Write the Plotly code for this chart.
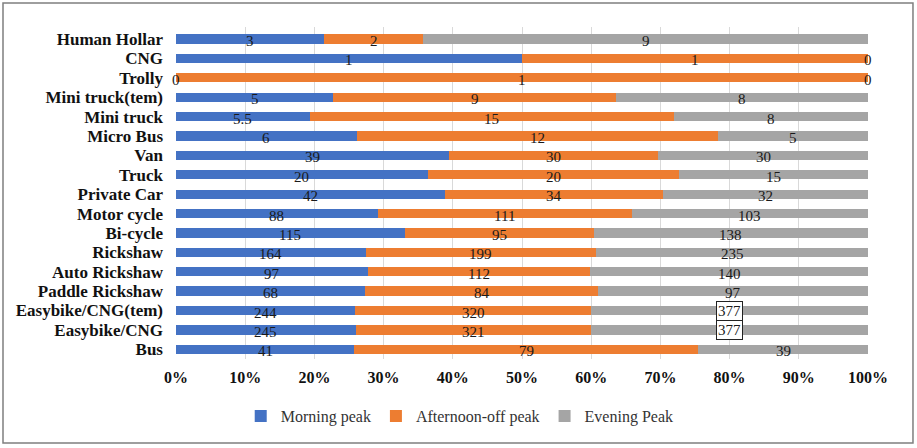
import plotly.graph_objects as go
import numpy as np

# data, top to bottom as in the chart
vehicles = ['Human Hollar', 'CNG', 'Trolly', 'Mini truck(tem)', 'Mini truck', 'Micro Bus',
            'Van', 'Truck', 'Private Car', 'Motor cycle', 'Bi-cycle', 'Rickshaw',
            'Auto Rickshaw', 'Paddle Rickshaw', 'Easybike/CNG(tem)', 'Easybike/CNG', 'Bus']
morning = [3, 1, 0, 5, 5.5, 6, 39, 20, 42, 88, 115, 164, 97, 68, 244, 245, 41]
afternoon = [2, 1, 1, 9, 15, 12, 30, 20, 34, 111, 95, 199, 112, 84, 320, 321, 79]
evening = [9, 0, 0, 8, 8, 5, 30, 15, 32, 103, 138, 235, 140, 97, 377, 377, 39]

series = [('Morning peak', morning, '#4472C4'),
          ('Afternoon-off peak', afternoon, '#ED7D31'),
          ('Evening Peak', evening, '#A5A5A5')]

boxed = {('Evening Peak', 'Easybike/CNG(tem)'), ('Evening Peak', 'Easybike/CNG')}

fig = go.Figure()
for name, vals, col in series:
    fig.add_trace(go.Bar(y=vehicles, x=vals, name=name, orientation='h',
                         marker_color=col, marker_line_width=0))

# data labels as annotations, so zero values show too
tot = np.array(morning) + np.array(afternoon) + np.array(evening)
cum = np.zeros(len(vehicles))
annos = []
for name, vals, col in series:
    v = np.array(vals, dtype=float)
    mid = (cum + v / 2) / tot * 100
    for i, cat in enumerate(vehicles):
        txt = ('%g' % vals[i])
        a = dict(x=mid[i], y=cat, text=txt, showarrow=False, yshift=-2,
                 font=dict(family='Liberation Serif', size=15, color='#1a1a1a'))
        if (name, cat) in boxed:
            a.update(bgcolor='white', bordercolor='#222', borderwidth=1, borderpad=1, yshift=0)
        annos.append(a)
    cum += v

fig.update_layout(
    barmode='stack', barnorm='percent', bargap=0.52,
    width=917, height=448,
    margin=dict(l=176, r=49, t=27, b=89),
    paper_bgcolor='white', plot_bgcolor='white',
    font=dict(family='Liberation Serif', color='#111'),
    xaxis=dict(range=[0, 100], tickvals=list(range(0, 101, 10)),
               ticktext=['<b>%d%%</b>' % t for t in range(0, 101, 10)],
               tickfont=dict(size=16), showgrid=True, gridcolor='#D9D9D9',
               zeroline=False, showline=False, ticks='', ticklabelstandoff=7),
    yaxis=dict(autorange='reversed', tickvals=vehicles,
               ticktext=['<b>%s</b>' % v for v in vehicles],
               tickfont=dict(size=17), showgrid=False, ticks='', showline=False,
               ticklabelstandoff=12),
    legend=dict(orientation='h', x=0.41, xanchor='center', y=-0.172, yanchor='middle',
                font=dict(size=16, color='#333'), traceorder='normal', itemwidth=30),
    annotations=annos,
    shapes=[dict(type='rect', xref='paper', yref='paper', x0=-0.25, x1=1.065,
                 y0=-0.253, y1=1.072, line=dict(color='#7F7F7F', width=1.5))],
)

fig.write_html("out.html", config={'displayModeBar': False},
               post_script="document.body.style.margin='0';")
